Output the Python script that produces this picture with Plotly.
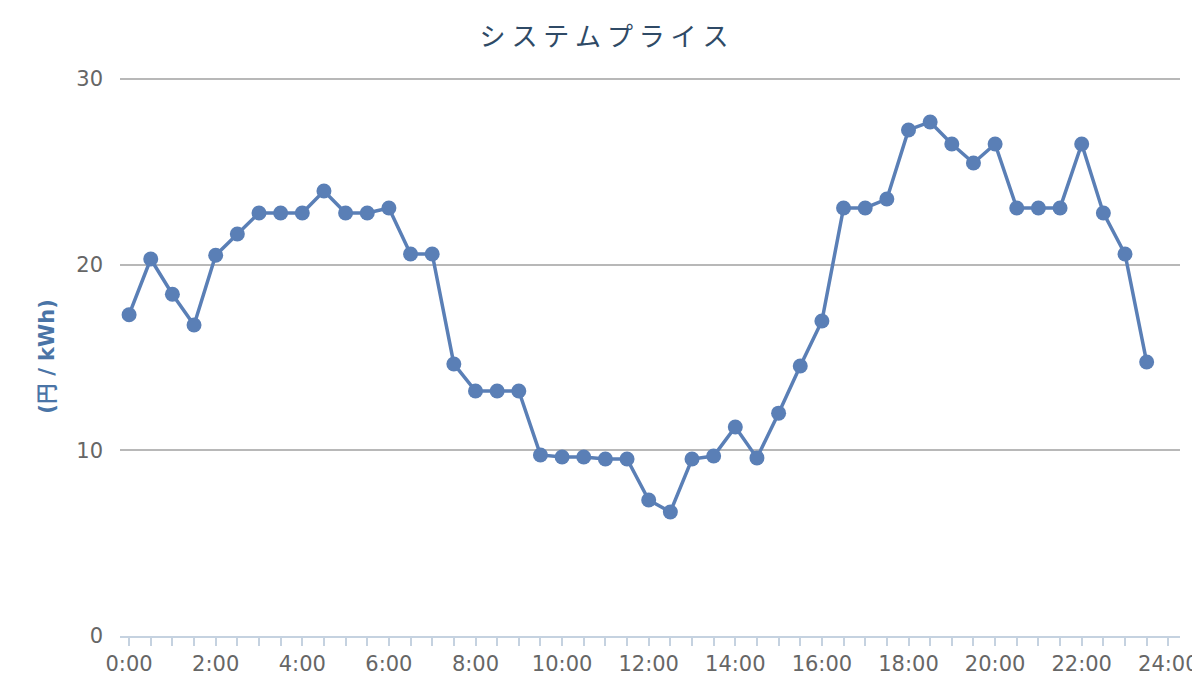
"""システムプライス line chart."""
import plotly.graph_objects as go

time_labels = [
    "0:00", "0:30", "1:00", "1:30", "2:00", "2:30", "3:00", "3:30",
    "4:00", "4:30", "5:00", "5:30", "6:00", "6:30", "7:00", "7:30",
    "8:00", "8:30", "9:00", "9:30", "10:00", "10:30", "11:00", "11:30",
    "12:00", "12:30", "13:00", "13:30", "14:00", "14:30", "15:00", "15:30",
    "16:00", "16:30", "17:00", "17:30", "18:00", "18:30", "19:00", "19:30",
    "20:00", "20:30", "21:00", "21:30", "22:00", "22:30", "23:00", "23:30",
]
price = [
    17.3, 20.3, 18.4, 16.75, 20.5, 21.65, 22.78, 22.78,
    22.78, 23.96, 22.78, 22.78, 23.05, 20.57, 20.57, 14.65,
    13.19, 13.19, 13.19, 9.75, 9.64, 9.64, 9.53, 9.53,
    7.32, 6.68, 9.53, 9.69, 11.25, 9.59, 12.0, 14.54,
    16.96, 23.05, 23.05, 23.53, 27.25, 27.68, 26.49, 25.47,
    26.49, 23.05, 23.05, 23.05, 26.49, 22.78, 20.57, 14.75,
]
tick_labels = ["0:00", "2:00", "4:00", "6:00", "8:00", "10:00", "12:00",
               "14:00", "16:00", "18:00", "20:00", "22:00", "24:00"]
y_ticks = [0, 10, 20, 30]


def to_hours(label):
    h, m = label.split(":")
    return int(h) + int(m) / 60


hours = [to_hours(t) for t in time_labels]
tick_hours = [to_hours(t) for t in tick_labels]

# every half hour gets a tick mark, only even hours get text
half_hours = [i / 2 for i in range(49)]
half_text = [tick_labels[tick_hours.index(h)] if h in tick_hours else "" for h in half_hours]

COLOR = "#5a7fb6"

fig = go.Figure(go.Scatter(
    x=hours, y=price, mode="lines+markers",
    line=dict(color=COLOR, width=3.5),
    marker=dict(size=15, color=COLOR),
    hoverinfo="x+y",
))

# the page adds an 8px body margin, so the figure is shrunk to fit the window
fig.update_layout(
    width=1192, height=684,
    paper_bgcolor="white", plot_bgcolor="white",
    margin=dict(l=112, r=20, t=69, b=56),
    showlegend=False,
    font=dict(family="DejaVu Sans, sans-serif", color="#666666"),
    title=dict(
        text="シ ス テ ム プ ラ イ ス",
        x=0.5, xanchor="center", y=0.958, yanchor="middle",
        font=dict(family="Noto Sans CJK JP", size=26, color="#2f4a66"),
    ),
)
fig.update_xaxes(
    range=[-0.21, 24.27], automargin=False,
    tickmode="array", tickvals=half_hours, ticktext=half_text,
    ticks="outside", ticklen=8, tickwidth=1.5, tickcolor="#c5d2e0",
    ticklabeloverflow="allow",
    showline=True, linecolor="#c5d2e0", linewidth=2,
    showgrid=False, zeroline=False,
    tickfont=dict(size=21, color="#666666"),
)
fig.update_yaxes(
    range=[0, 30.1], automargin=False,
    tickmode="array", tickvals=y_ticks,
    showgrid=True, gridcolor="#b8b8b8", gridwidth=1.5,
    zeroline=False, showline=False, ticks="", ticklabelstandoff=16,
    tickfont=dict(size=21, color="#666666"),
    title=dict(text="(円 / kWh)", standoff=15,
               font=dict(size=21, color="#4a74a6", weight="bold")),
)

fig.write_html("out.html")
